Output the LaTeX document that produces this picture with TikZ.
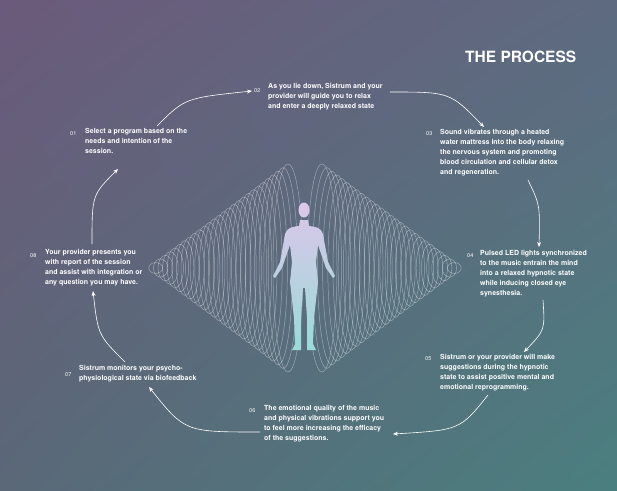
\documentclass[tikz,border=0pt]{standalone}
\usepackage{fontspec}
\setmainfont{TeX Gyre Heros}
\usetikzlibrary{arrows.meta,shadings}
\definecolor{bgtl}{HTML}{6B5A7B}
\definecolor{bgbr}{HTML}{4A7F7F}
\definecolor{bgtr}{HTML}{5E6A80}
\definecolor{bgbl}{HTML}{5A6878}
\definecolor{bodytop}{HTML}{DDC6EA}
\definecolor{bodybot}{HTML}{9ADBD8}
\tikzstyle{num}=[white,font=\fontsize{5.5}{7}\selectfont,anchor=west,inner sep=0pt]
\tikzstyle{stepbox}=[white,font=\bfseries\fontsize{7}{10}\selectfont,align=left,anchor=north west,inner sep=0pt]
\tikzstyle{flow}=[white,semithick,-{Stealth[length=5pt,width=4pt]}]
\tikzstyle{wave}=[white,opacity=0.4,line width=0.5pt]
\begin{document}
\begin{tikzpicture}[x=1pt,y=-1pt]
    \useasboundingbox (0,0) rectangle (617,490);
    \shade[upper left=bgtl,upper right=bgtr,lower left=bgbl,lower right=bgbr] (0,0) rectangle (617,490);

    % waves
    \foreach \i in {0,...,27} {
        \draw[wave] ({322+4.9*\i},268) ellipse ({15-0.3*\i} and {104-3.65*\i});
        \draw[wave] ({288-4.9*\i},268) ellipse ({15-0.3*\i} and {104-3.65*\i});
    }

    % figure
    \shade[top color=bodytop,bottom color=bodybot]
        (304,210) ellipse (5.5 and 7.5)
        (300,220) -- (308,220) -- (309,226) .. controls (320,227) and (323,230) .. (324,240)
        -- (328,262) -- (335,276) -- (333,278) -- (326,268) -- (318,245)
        -- (316,262) -- (318,282) -- (314,318) -- (313,344) -- (316,350) -- (307,350) -- (307,318) -- (305,288)
        -- (303,288) -- (301,318) -- (301,350) -- (292,350) -- (295,344) -- (294,318) -- (290,282) -- (292,262) -- (290,245)
        -- (282,268) -- (275,278) -- (273,276) -- (280,262) -- (284,240)
        .. controls (285,230) and (288,227) .. (299,226) -- cycle;

    \node (title) [white,font=\bfseries\fontsize{15.5}{15.5}\selectfont,anchor=west,inner sep=0pt] at (465,57) {THE PROCESS};

    \node (n1)[num] at (70,134) {01};
    \node (s1)[stepbox] at (85,128.5) {Select a program based on the\\needs and intention of the\\session.};
    \node (n2)[num] at (254,91) {02};
    \node (s2)[stepbox] at (268,83.5) {As you lie down, Sistrum and your\\provider will guide you to relax\\and enter a deeply relaxed state};
    \node (n3)[num] at (426,134) {03};
    \node (s3)[stepbox] at (440,129.5) {Sound vibrates through a heated\\water mattress into the body relaxing\\the nervous system and promoting\\blood circulation and cellular detox\\and regeneration.};
    \node (n4)[num] at (467,256) {04};
    \node (s4)[stepbox] at (480,250.5) {Pulsed LED lights synchronized\\to the music entrain the mind\\into a relaxed hypnotic state\\while inducing closed eye\\synesthesia.};
    \node (n5)[num] at (425,359) {05};
    \node (s5)[stepbox] at (440,354.5) {Sistrum or your provider will make\\suggestions during the hypnotic\\state to assist positive mental and\\emotional reprogramming.};
    \node (n6)[num] at (249,411) {06};
    \node (s6)[stepbox] at (264,405.5) {The emotional quality of the music\\and physical vibrations support you\\to feel more increasing the efficacy\\of the suggestions.};
    \node (n7)[num] at (65,375) {07};
    \node (s7)[stepbox] at (79,365.5) {Sistrum monitors your psycho-\\physiological state via biofeedback};
    \node (n8)[num] at (30,256) {08};
    \node (s8)[stepbox] at (45,249.5) {Your provider presents you\\with report of the session\\and assist with integration or\\any question you may have.};

    \coordinate (a1) at (157,126);
    \coordinate (b1) at (252,91);
    \coordinate (a2) at (390,92);
    \coordinate (b2) at (484,127);
    \coordinate (a3) at (528,180);
    \coordinate (b3) at (539,247);
    \coordinate (a4) at (543,300);
    \coordinate (b4) at (524,352);
    \coordinate (a5) at (488,395);
    \coordinate (b5) at (393,434);
    \coordinate (a6) at (260,432);
    \coordinate (b6) at (149,387);
    \coordinate (a7) at (125,362);
    \coordinate (b7) at (93,291);
    \coordinate (a8) at (92,244);
    \coordinate (b8) at (118,169);

    \draw[flow] (a1) .. controls (185,98) .. (b1);
    \draw[flow] (a2) .. controls (450,92) .. (b2);
    \draw[flow] (a3) .. controls (540,205) .. (b3);
    \draw[flow] (a4) .. controls (545,330) .. (b4);
    \draw[flow] (a5) .. controls (460,430) .. (b5);
    \draw[flow] (a6) .. controls (185,432) .. (b6);
    \draw[flow] (a7) .. controls (98,335) .. (b7);
    \draw[flow] (a8) .. controls (92,195) .. (b8);
\end{tikzpicture}
\end{document}
